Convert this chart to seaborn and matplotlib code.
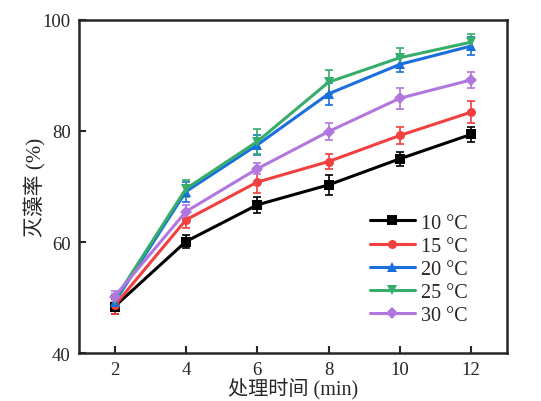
import numpy as np
import pandas as pd
import matplotlib
matplotlib.use("Agg")
import matplotlib.pyplot as plt
import seaborn as sns

time_min = [2, 4, 6, 8, 10, 12]
labels = ["10 °C", "15 °C", "20 °C", "25 °C", "30 °C"]
t10 = [48.4, 60.1, 66.7, 70.3, 75.0, 79.4]
t15 = [48.6, 64.0, 70.8, 74.5, 79.2, 83.4]
t20 = [49.2, 69.1, 77.5, 86.7, 92.0, 95.3]
t25 = [49.6, 69.6, 78.1, 88.8, 93.2, 96.0]
t30 = [50.2, 65.5, 73.2, 79.9, 85.9, 89.2]
e10 = [1.3, 1.2, 1.5, 1.8, 1.3, 1.4]
e15 = [1.5, 1.5, 2.0, 1.4, 1.6, 2.0]
e20 = [1.0, 1.8, 1.8, 2.0, 1.4, 1.6]
e25 = [1.0, 1.5, 2.2, 2.1, 1.8, 1.5]
e30 = [1.0, 1.2, 1.0, 1.6, 1.9, 1.4]
colors = ["#000000", "#F14040", "#1A6FDF", "#37AD6B", "#B177DE"]
markers = ["s", "o", "^", "v", "D"]

series = [t10, t15, t20, t25, t30]
errs = [e10, e15, e20, e25, e30]

rows = []
for lab, ys, es in zip(labels, series, errs):
    for x, y, e in zip(time_min, ys, es):
        rows.append({"t": x, "v": y, "e": e, "s": lab})
df = pd.DataFrame(rows)

sns.set_style("ticks")
plt.rcParams["font.family"] = ["Liberation Serif", "Noto Sans CJK SC"]
plt.rcParams["mathtext.fontset"] = "stix"

fig = plt.figure(figsize=(5.41, 4.02), dpi=100)
ax = fig.add_axes([0.146, 0.119, 0.791, 0.829])

for lab, c, es in zip(labels, colors, errs):
    sub = df[df.s == lab]
    ax.errorbar(sub.t, sub.v, yerr=sub.e, fmt="none", ecolor=c,
                elinewidth=1.2, capsize=3, capthick=1.2, zorder=2)

sns.lineplot(data=df, x="t", y="v", hue="s", style="s",
             palette=dict(zip(labels, colors)),
             markers=dict(zip(labels, markers)), dashes=False,
             linewidth=2.2, markersize=6.5, markeredgewidth=0,
             ax=ax, zorder=3, legend=True)

ax.set_xlim(1, 13)
ax.set_ylim(40, 100)
ax.set_xticks([2, 4, 6, 8, 10, 12])
ax.set_yticks([40, 60, 80, 100])
ax.tick_params(direction="in", length=5, width=1.5, labelsize=13.5, pad=6)
for sp in ax.spines.values():
    sp.set_linewidth(1.8)
    sp.set_visible(True)

ax.set_xlabel("处理时间 (min)", fontsize=14.5, labelpad=0)
ax.set_ylabel("灭藻率 (%)", fontsize=15, labelpad=-3)

leg = ax.legend(loc="lower right", bbox_to_anchor=(0.95, 0.03), frameon=False,
                fontsize=14.5, handlelength=2.2, handletextpad=0.3,
                labelspacing=0.2)

fig.savefig("out.png", dpi=100)
